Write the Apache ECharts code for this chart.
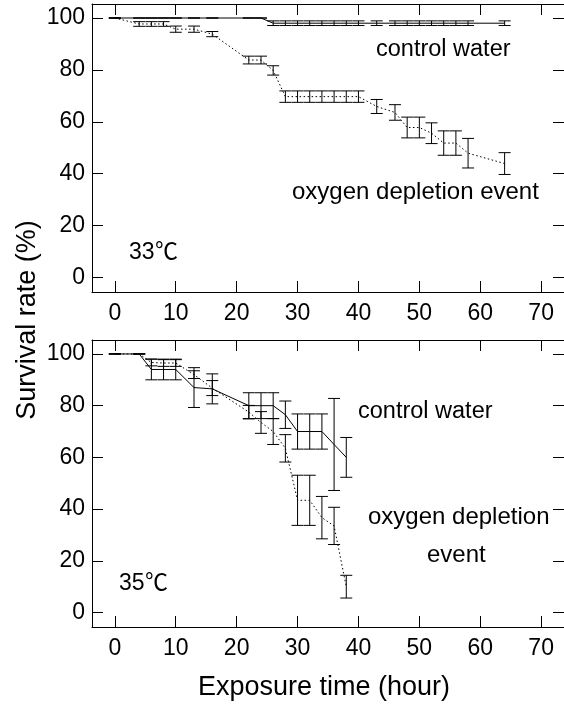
<!DOCTYPE html>
<html>
<head>
<meta charset="utf-8">
<script src="https://cdn.jsdelivr.net/npm/echarts@6/dist/echarts.min.js"></script>
<style>
  html, body { margin: 0; padding: 0; background: #fff; }
  #chart { width: 564px; height: 706px; }
</style>
</head>
<body>
<div id="chart"></div>
<script>
// Axis ticks
const tickHours = [0, 10, 20, 30, 40, 50, 60, 70];
const tickRates = [0, 20, 40, 60, 80, 100];

// 33 °C exposure: sampling times (hour)
const hours33 = [0, 4, 6, 8, 10, 13, 16, 22, 24, 26, 28, 30, 32, 34, 36, 38, 40, 43, 46, 48, 50, 52, 54, 56, 58, 64];
const control33 = [100, 100, 100, 100, 100, 100, 100, 100, 100, 98, 98, 98, 98, 98, 98, 98, 98, 98, 98, 98, 98, 98, 98, 98, 98, 98];
const control33Err = [0, 0, 0, 0, 0, 0, 0, 0, 0, 0.9, 0.9, 0.9, 0.9, 0.9, 0.9, 0.9, 0.9, 0.9, 0.9, 0.9, 0.9, 0.9, 0.9, 0.9, 0.9, 0.9];
const oxygen33 = [100, 97.7, 97.7, 97.7, 95.7, 95.7, 93.8, 83.8, 83.8, 79.8, 69.7, 69.7, 69.7, 69.7, 69.7, 69.7, 69.7, 65.9, 63.6, 57.8, 57.8, 55.6, 51.8, 51.8, 47.9, 43.9];
const oxygen33Err = [0, 0.9, 0.9, 0.9, 1.2, 1.2, 1.0, 1.5, 1.5, 1.8, 2.2, 2.2, 2.2, 2.2, 2.2, 2.2, 2.2, 2.7, 3.0, 4.0, 4.0, 4.0, 4.7, 4.7, 5.7, 4.2];

// 35 °C exposure
const hours35 = [0, 4, 6, 8, 10, 13, 16, 22, 24, 26, 28, 30, 32, 34, 36, 38];
const control35 = [100, 100, 94, 94, 94, 87, 86.5, 80, 80, 80, 76.5, 70, 70, 70, 65, 60];
const control35Err = [0, 0, 4, 4, 4, 7.7, 5.8, 5, 5, 5, 5.3, 6.8, 6.8, 6.8, 17.8, 7.7];
const oxygen35 = [100, 100, 96.7, 96.5, 96.5, 92, 86.8, 77.5, 73.5, 70, 63.5, 43.4, 43.4, 36.7, 33.5, 10];
const oxygen35Err = [0, 0, 1.3, 1.3, 1.3, 1.5, 2.9, 2.6, 4.2, 5, 5.3, 9.7, 9.7, 8.2, 7.2, 4.4];

const FONT = '"Liberation Sans", Arial, Helvetica, sans-serif';
const FONT_CJK = '"Noto Sans CJK JP", "Noto Sans CJK SC", sans-serif';

const chart = echarts.init(document.getElementById('chart'), null, { renderer: 'canvas' });

const panels = [
  { top: 4, height: 288 },
  { top: 340, height: 287 }
];

function xAxes(gridIndex) {
  const common = {
    type: 'value', gridIndex, min: -3.75, max: 73.75,
    splitLine: { show: false },
    axisLine: { show: true, onZero: false, lineStyle: { color: '#000', width: 1 } },
    axisTick: { show: true, inside: true, length: 11, customValues: tickHours, lineStyle: { color: '#000', width: 1 } }
  };
  return [
    Object.assign({}, common, {
      position: 'bottom',
      axisLabel: { show: true, customValues: tickHours, margin: 10, color: '#000', fontSize: 23, fontFamily: FONT }
    }),
    Object.assign({}, common, { position: 'top', axisLabel: { show: false } })
  ];
}

function yAxes(gridIndex) {
  const common = {
    type: 'value', gridIndex, min: -5.6, max: 105.4,
    splitLine: { show: false },
    axisLine: { show: true, onZero: false, lineStyle: { color: '#000', width: 1 } },
    axisTick: { show: true, inside: true, length: 11, customValues: tickRates, lineStyle: { color: '#000', width: 1 } }
  };
  return [
    Object.assign({}, common, {
      position: 'left',
      axisLabel: { show: true, customValues: tickRates, margin: 7, color: '#000', fontSize: 23, fontFamily: FONT }
    }),
    Object.assign({}, common, { position: 'right', axisLabel: { show: false } })
  ];
}

// vertical bar with horizontal caps at mean ± error
function errorBarItem(params, api) {
  const x = api.value(0), y = api.value(1), e = api.value(2);
  const hi = api.coord([x, y + e]);
  const lo = api.coord([x, y - e]);
  const half = 6;
  const style = { stroke: '#000', lineWidth: 1 };
  return {
    type: 'group',
    children: [
      { type: 'line', shape: { x1: hi[0], y1: hi[1], x2: lo[0], y2: lo[1] }, style },
      { type: 'line', shape: { x1: hi[0] - half, y1: hi[1], x2: hi[0] + half, y2: hi[1] }, style },
      { type: 'line', shape: { x1: lo[0] - half, y1: lo[1], x2: lo[0] + half, y2: lo[1] }, style }
    ]
  };
}

function pairs(xs, ys) { return xs.map((x, i) => [x, ys[i]]); }
function triples(xs, ys, es) { return xs.map((x, i) => [x, ys[i], es[i]]); }

function panelSeries(axisBase, hours, ctrl, ctrlErr, oxy, oxyErr) {
  const idx = { xAxisIndex: axisBase, yAxisIndex: axisBase };
  return [
    Object.assign({ type: 'custom', renderItem: errorBarItem, data: triples(hours, ctrl, ctrlErr), z: 3, silent: true }, idx),
    Object.assign({ type: 'custom', renderItem: errorBarItem, data: triples(hours, oxy, oxyErr), z: 3, silent: true }, idx),
    Object.assign({ type: 'line', data: pairs(hours, ctrl), symbol: 'none', z: 4, silent: true,
      lineStyle: { color: '#000', width: 1, type: 'solid' } }, idx),
    Object.assign({ type: 'line', data: pairs(hours, oxy), symbol: 'none', z: 4, silent: true,
      lineStyle: { color: '#000', width: 1, type: [1.5, 2.5] } }, idx)
  ];
}

function label(text, x, y, size, font) {
  return {
    type: 'text', x, y, silent: true,
    style: { text, fill: '#000', font: size + 'px ' + (font || FONT), align: 'left', verticalAlign: 'middle' }
  };
}

// temperature tag: digits in sans, the ℃ sign from a CJK face, sharing one baseline
function tempLabel(num, x, y) {
  return [
    label(num, x, y, 23),
    label('℃', x + 26, y - 3, 23, FONT_CJK)
  ];
}

const option = {
  animation: false,
  backgroundColor: '#fff',
  grid: panels.map(p => ({ left: 92, right: -4, top: p.top, height: p.height, containLabel: false })),
  xAxis: [].concat(xAxes(0), xAxes(1)),
  yAxis: [].concat(yAxes(0), yAxes(1)),
  series: [].concat(
    panelSeries(0, hours33, control33, control33Err, oxygen33, oxygen33Err),
    panelSeries(2, hours35, control35, control35Err, oxygen35, oxygen35Err)
  ),
  graphic: [].concat(
    [
      label('control water', 376, 50, 23.5),
      label('oxygen depletion event', 292, 192, 24),
      label('control water', 358, 412, 23.5),
      label('oxygen depletion', 368, 517, 24),
      label('event', 427, 555, 24)
    ],
    tempLabel('33', 129, 253),
    tempLabel('35', 119, 584),
    [
      {
        type: 'text', x: 324, y: 688, silent: true,
        style: { text: 'Exposure time (hour)', fill: '#000', font: '27px ' + FONT, align: 'center', verticalAlign: 'middle' }
      },
      {
        type: 'text', x: 28, y: 320, rotation: Math.PI / 2, silent: true,
        style: { text: 'Survival rate (%)', fill: '#000', font: '27px ' + FONT, align: 'center', verticalAlign: 'middle' }
      }
    ]
  )
};

chart.setOption(option);
</script>
</body>
</html>
